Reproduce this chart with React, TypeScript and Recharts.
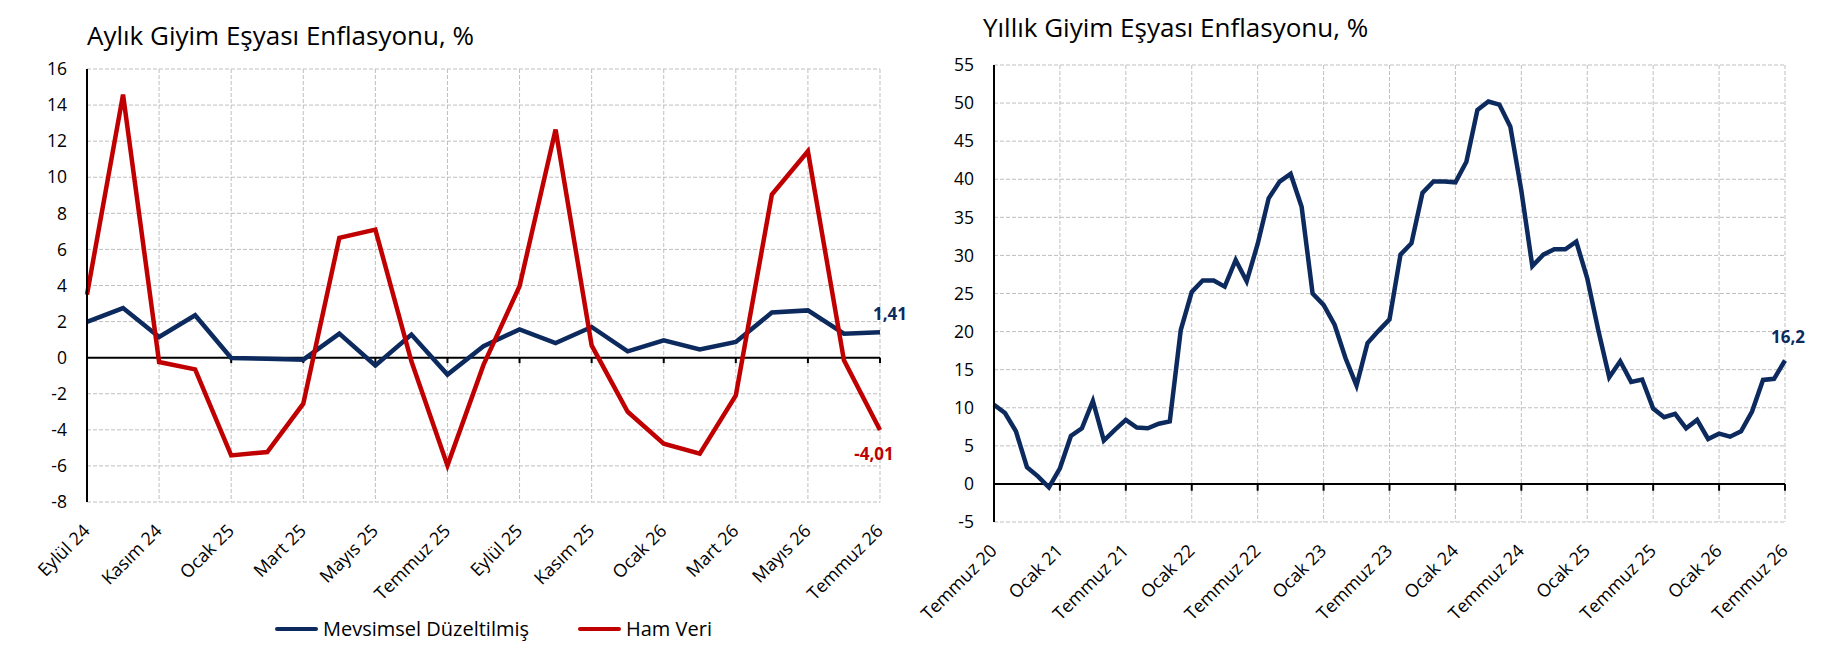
import React from 'react';
import { LineChart, Line, XAxis, YAxis, CartesianGrid, ReferenceLine, LabelList } from 'recharts';

const FONT = '"Open Sans", Lato, sans-serif';
const NAVY = '#0C2A5E';
const RED = '#C00000';
const GRID = '#BFBFBF';

// ---- Left chart: monthly clothing inflation ----
const monthlyLabels = [
  'Eylül 24', 'Ekim 24', 'Kasım 24', 'Aralık 24', 'Ocak 25', 'Şubat 25', 'Mart 25', 'Nisan 25',
  'Mayıs 25', 'Haziran 25', 'Temmuz 25', 'Ağustos 25', 'Eylül 25', 'Ekim 25', 'Kasım 25',
  'Aralık 25', 'Ocak 26', 'Şubat 26', 'Mart 26', 'Nisan 26', 'Mayıs 26', 'Haziran 26', 'Temmuz 26',
];
const seasonallyAdjusted = [
  1.98, 2.75, 1.15, 2.35, -0.02, -0.06, -0.11, 1.33, -0.43, 1.28, -0.94, 0.63, 1.57, 0.81, 1.7,
  0.35, 0.96, 0.46, 0.87, 2.5, 2.62, 1.33, 1.41,
];
const rawValues = [
  3.49, 14.58, -0.24, -0.65, -5.42, -5.23, -2.55, 6.64, 7.1, -0.2, -5.97, -0.4, 3.96, 12.64, 0.68,
  -3.0, -4.77, -5.32, -2.09, 9.04, 11.44, -0.15, -4.01,
];
const monthlyYTicks = [-8, -6, -4, -2, 0, 2, 4, 6, 8, 10, 12, 14, 16];
const monthlyLegend = ['Mevsimsel Düzeltilmiş', 'Ham Veri'];

// ---- Right chart: annual clothing inflation ----
const trMonths = ['Ocak', 'Şubat', 'Mart', 'Nisan', 'Mayıs', 'Haziran', 'Temmuz', 'Ağustos', 'Eylül', 'Ekim', 'Kasım', 'Aralık'];
const annualInflation = [
  10.4, 9.3, 6.9, 2.2, 1.0, -0.45, 2.05, 6.3, 7.3, 10.9, 5.7, 7.1, 8.4, 7.4, 7.3, 7.9, 8.2,
  20.2, 25.2, 26.7, 26.7, 25.9, 29.4, 26.6, 31.5, 37.5, 39.7, 40.7, 36.4, 25.0, 23.5, 20.9,
  16.5, 12.9, 18.5, 20.1, 21.6, 30.1, 31.6, 38.2, 39.7, 39.7, 39.6, 42.3, 49.1, 50.2, 49.8,
  46.9, 38.5, 28.6, 30.1, 30.8, 30.8, 31.8, 27.0, 20.2, 14.0, 16.1, 13.4, 13.7, 9.9, 8.75,
  9.2, 7.3, 8.4, 5.9, 6.6, 6.2, 6.9, 9.5, 13.65, 13.8, 16.2,
];
const annualLabels = annualInflation.map((_, i) => {
  const m = 6 + i; // starts Temmuz 2020
  return `${trMonths[m % 12]} ${20 + Math.floor(m / 12)}`;
});
const annualYTicks = [-5, 0, 5, 10, 15, 20, 25, 30, 35, 40, 45, 50, 55];

const monthlyData = monthlyLabels.map((month, i) => ({ month, sa: seasonallyAdjusted[i], raw: rawValues[i] }));
const annualData = annualLabels.map((month, i) => ({ month, yoy: annualInflation[i] }));

const monthlyTickCats = monthlyLabels.filter((_, i) => i % 2 === 0 && i > 0);
const annualTickCats = annualLabels.filter((_, i) => i % 6 === 0 && i > 0);

const XTick = (props: any) => {
  const { x, y, payload } = props;
  const ax = x + 4;
  const ay = y + 30;
  return (
    <text x={ax} y={ay} transform={`rotate(-45 ${ax} ${ay})`} textAnchor="end" fill="#000" fontSize={18} fontFamily={FONT}>
      {payload.value}
    </text>
  );
};

const lastLabel = (lastIndex: number, color: string, digits: number, dx: number, dy: number) => (props: any) => {
  const { x, y, value, index } = props;
  if (index !== lastIndex) return null;
  return (
    <text x={x + dx} y={y + dy} textAnchor="middle" fill={color} fontSize={17} fontWeight="bold" fontFamily={FONT}>
      {Number(value).toFixed(digits).replace('.', ',')}
    </text>
  );
};

const titleStyle: React.CSSProperties = {
  position: 'absolute',
  fontFamily: FONT,
  fontSize: 26,
  lineHeight: '26px',
  color: '#000',
  whiteSpace: 'nowrap',
};

const legendItem = (color: string, label: string, left: number) => (
  <div style={{ position: 'absolute', left, top: 608, display: 'flex', alignItems: 'center', height: 26 }}>
    <div style={{ width: 43, height: 4, background: color, borderRadius: 2, marginRight: 5 }} />
    <span style={{ fontFamily: FONT, fontSize: 20, lineHeight: '26px', color: '#000', whiteSpace: 'nowrap' }}>{label}</span>
  </div>
);

export default function App() {
  return (
    <div style={{ position: 'relative', width: 1808, height: 656, overflow: 'hidden', background: '#fff' }}>
      <div style={{ ...titleStyle, left: 79, top: 14 }}>Aylık Giyim Eşyası Enflasyonu, %</div>
      <div style={{ ...titleStyle, left: 975, top: 6 }}>Yıllık Giyim Eşyası Enflasyonu, %</div>

      <div style={{ position: 'absolute', left: 0, top: 0 }}>
        <LineChart width={900} height={656} data={monthlyData} margin={{ top: 61, right: 28, bottom: 82, left: 0 }}>
          <CartesianGrid stroke={GRID} strokeDasharray="4 2" />
          <XAxis dataKey="month" interval={1} axisLine={false} tickLine={false} tickSize={0} tickMargin={0} height={80} tick={<XTick />} />
          <YAxis
            domain={[-8, 16]}
            ticks={monthlyYTicks}
            width={79}
            axisLine={{ stroke: '#000', strokeWidth: 2 }}
            tickLine={false}
            tickSize={0}
            tickMargin={20}
            tick={{ fill: '#000', fontSize: 17.5, fontFamily: FONT }}
            interval={0}
          />
          <ReferenceLine y={0} stroke="#000" strokeWidth={2} />
          {monthlyTickCats.map((c) => (
            <ReferenceLine key={c} segment={[{ x: c, y: 0 }, { x: c, y: -0.3 }]} stroke="#000" strokeWidth={2} />
          ))}
          <Line dataKey="sa" stroke={NAVY} strokeWidth={4.5} dot={false} isAnimationActive={false}>
            <LabelList dataKey="sa" content={lastLabel(monthlyLabels.length - 1, NAVY, 2, 10, -12)} />
          </Line>
          <Line dataKey="raw" stroke={RED} strokeWidth={4.5} dot={false} isAnimationActive={false}>
            <LabelList dataKey="raw" content={lastLabel(monthlyLabels.length - 1, RED, 2, -6, 30)} />
          </Line>
        </LineChart>
      </div>

      {legendItem(NAVY, monthlyLegend[0], 267)}
      {legendItem(RED, monthlyLegend[1], 570)}

      <div style={{ position: 'absolute', left: 900, top: 0 }}>
        <LineChart width={908} height={656} data={annualData} margin={{ top: 57, right: 31, bottom: 62, left: 0 }}>
          <CartesianGrid stroke={GRID} strokeDasharray="4 2" />
          <XAxis dataKey="month" interval={5} axisLine={false} tickLine={false} tickSize={0} tickMargin={0} height={80} tick={<XTick />} />
          <YAxis
            domain={[-5, 55]}
            ticks={annualYTicks}
            width={86}
            axisLine={{ stroke: '#000', strokeWidth: 2 }}
            tickLine={false}
            tickSize={0}
            tickMargin={20}
            tick={{ fill: '#000', fontSize: 17.5, fontFamily: FONT }}
            interval={0}
          />
          <ReferenceLine y={0} stroke="#000" strokeWidth={2} />
          {annualTickCats.map((c) => (
            <ReferenceLine key={c} segment={[{ x: c, y: 0 }, { x: c, y: -0.9 }]} stroke="#000" strokeWidth={2} />
          ))}
          <Line dataKey="yoy" stroke={NAVY} strokeWidth={4.5} dot={false} isAnimationActive={false}>
            <LabelList dataKey="yoy" content={lastLabel(annualLabels.length - 1, NAVY, 1, 3, -18)} />
          </Line>
        </LineChart>
      </div>
    </div>
  );
}
